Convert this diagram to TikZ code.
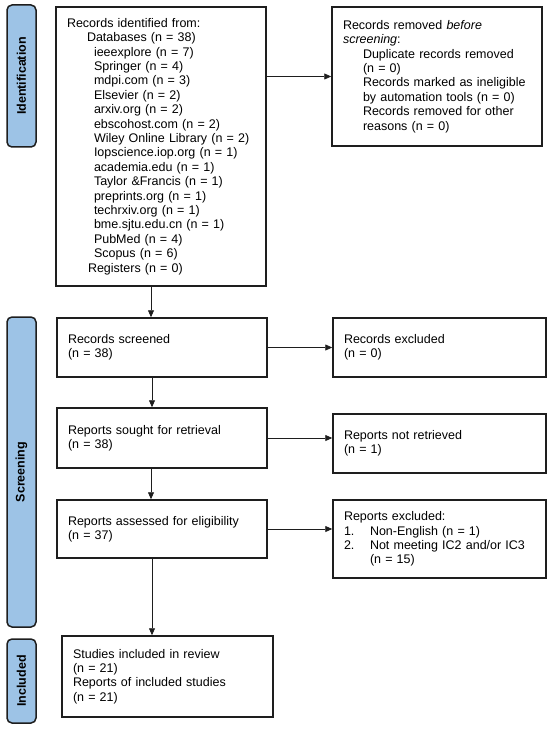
\documentclass[tikz,border=0pt]{standalone}
\usepackage{fontspec}
\setmainfont{Liberation Sans}
\usetikzlibrary{arrows.meta}
\definecolor{phase}{RGB}{157,195,230}
\definecolor{edge}{RGB}{30,30,30}
\tikzset{
  txt/.style={font=\fontsize{12.5}{14.4}\selectfont},
  box/.style={txt, draw=edge, line width=1.5pt, align=left, inner xsep=11pt, inner ysep=0pt, anchor=center},
  phaselabel/.style={draw=edge, fill=phase, line width=1.5pt, rounded corners=5pt, rotate=90,
     minimum height=29pt, inner sep=0pt, font=\fontsize{12.5}{14.4}\selectfont\bfseries},
  arr/.style={-{Triangle[length=7pt,width=6pt]}, line width=0.8pt, draw=edge}
}
\newcommand{\ind}[1]{\hspace*{#1pt}}
\begin{document}
\begin{tikzpicture}[x=1pt,y=-1pt]
\useasboundingbox (0,0) rectangle (550,730);

% phase labels
\node[phaselabel, minimum width=142pt] (lid) at (21.5,76) {Identification};
\node[phaselabel, minimum width=310pt] (lscr) at (21.5,472) {Screening};
\node[phaselabel, minimum width=84pt] (linc) at (21.5,681) {Included};

% boxes
\node[box, text width=188pt, minimum height=279pt] (id) at (161,146.5) {%
Records identified from:\\
\ind{20}Databases (n = 38)\\
\ind{27}ieeexplore (n = 7)\\
\ind{27}Springer (n = 4)\\
\ind{27}mdpi.com (n = 3)\\
\ind{27}Elsevier (n = 2)\\
\ind{27}arxiv.org (n = 2)\\
\ind{27}ebscohost.com (n = 2)\\
\ind{27}Wiley Online Library (n = 2)\\
\ind{27}Iopscience.iop.org (n = 1)\\
\ind{27}academia.edu (n = 1)\\
\ind{27}Taylor \&Francis (n = 1)\\
\ind{27}preprints.org (n = 1)\\
\ind{27}techrxiv.org (n = 1)\\
\ind{27}bme.sjtu.edu.cn (n = 1)\\
\ind{27}PubMed (n = 4)\\
\ind{27}Scopus (n = 6)\\
\ind{21}Registers (n = 0)};

\node[box, text width=188pt, minimum height=139pt] (rem) at (437,76.5) {%
Records removed \textit{before}\\
\textit{screening}:\\
\ind{20}Duplicate records removed\\
\ind{20}(n = 0)\\
\ind{20}Records marked as ineligible\\
\ind{20}by automation tools (n = 0)\\
\ind{20}Records removed for other\\
\ind{20}reasons (n = 0)};

\node[box, text width=188pt, minimum height=59pt] (scr) at (162,347.5) {Records screened\\(n = 38)};
\node[box, text width=191pt, minimum height=59pt] (exc) at (439.5,347.5) {Records excluded\\(n = 0)};

\node[box, text width=188pt, minimum height=60pt] (sou) at (162,438) {Reports sought for retrieval\\(n = 38)};
\node[box, text width=191pt, minimum height=59pt] (nre) at (439.5,443.5) {Reports not retrieved\\(n = 1)};

\node[box, text width=188pt, minimum height=58pt] (ass) at (162,529) {Reports assessed for eligibility\\(n = 37)};
\node[box, text width=191pt, minimum height=78pt] (rex) at (439.5,539) {%
Reports excluded:\\
\makebox[26pt][l]{1.}Non-English (n = 1)\\
\makebox[26pt][l]{2.}Not meeting IC2 and/or IC3\\
\ind{26}(n = 15)};

\node[box, text width=189pt, minimum height=81pt] (inc) at (167.5,676.5) {%
Studies included in review\\
(n = 21)\\
Reports of included studies\\
(n = 21)};

% connectors
\coordinate (col) at (151,0);
\coordinate (col2) at (152,0);
\draw[arr] (rem.west -| id.east) -- (rem.west);
\draw[arr] (id.south -| col) -- (scr.north -| col);
\draw[arr] (scr.east) -- (exc.west);
\draw[arr] (scr.south -| col2) -- (sou.north -| col2);
\draw[arr] (sou.east) -- (sou.east -| nre.west);
\draw[arr] (sou.south -| col) -- (ass.north -| col);
\draw[arr] (ass.east) -- (ass.east -| rex.west);
\draw[arr] (ass.south -| col2) -- (inc.north -| col2);
\end{tikzpicture}
\end{document}
